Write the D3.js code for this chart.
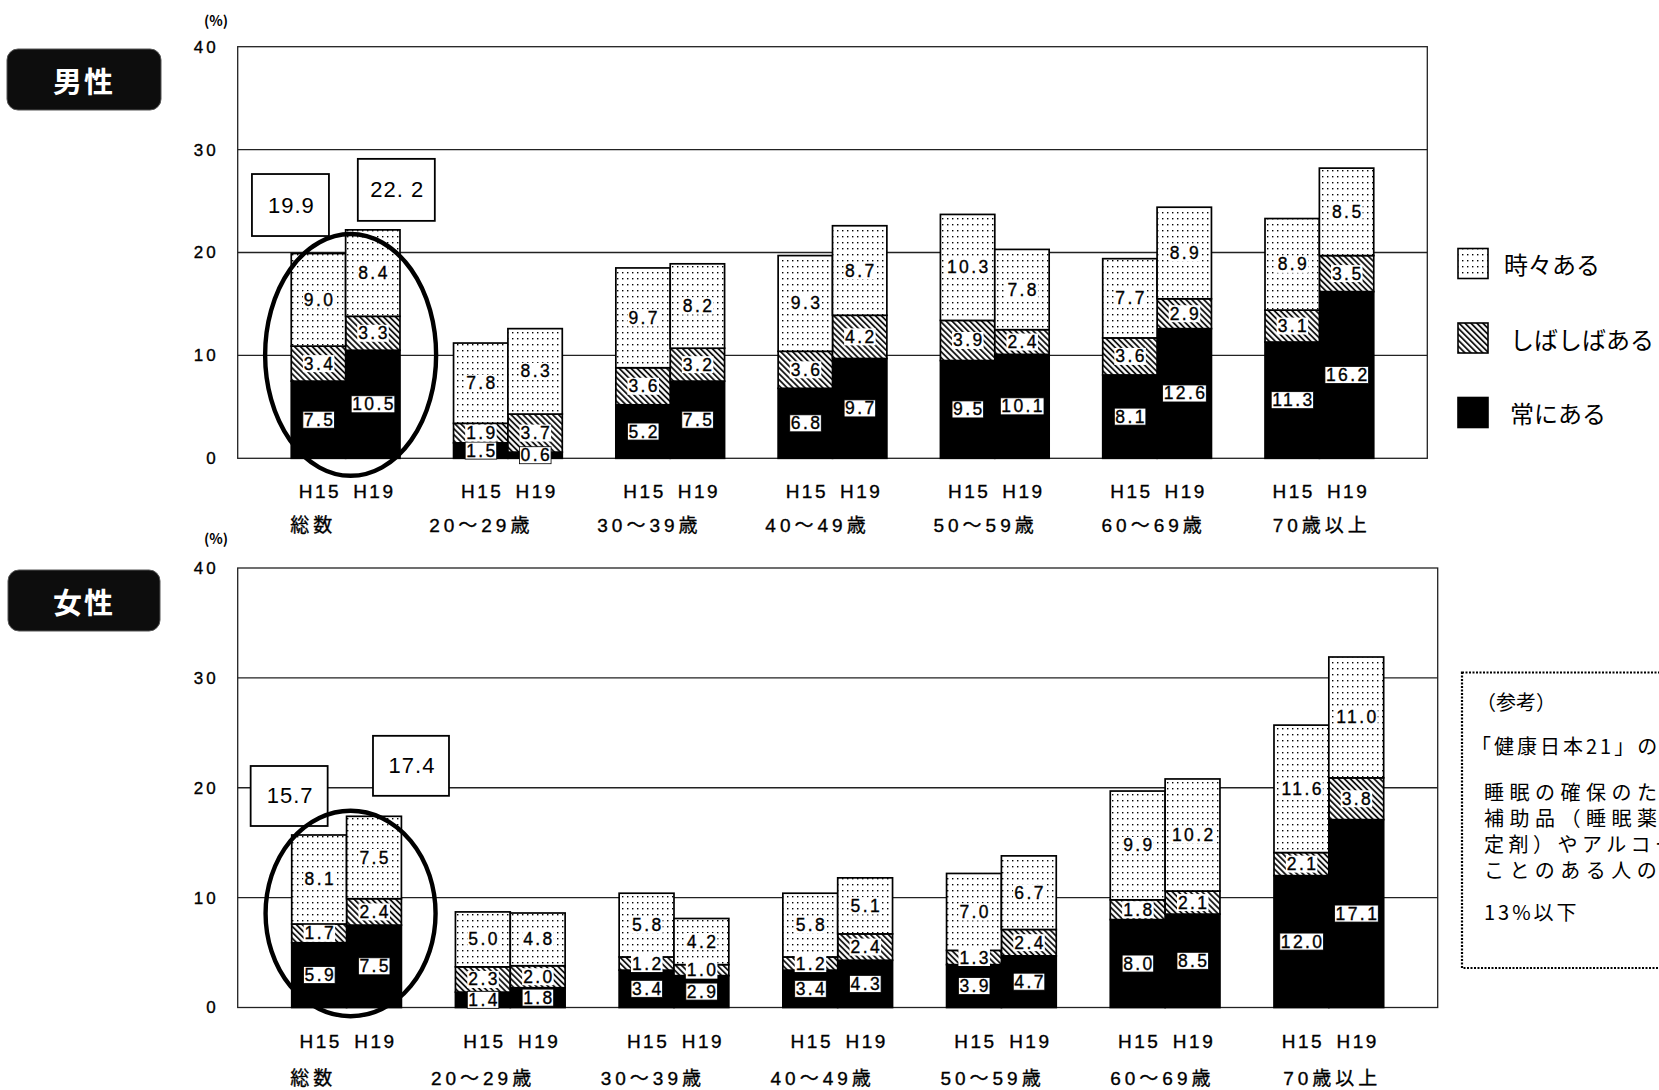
<!DOCTYPE html>
<html>
<head>
<meta charset="utf-8">
<script src="https://cdn.jsdelivr.net/npm/d3@7"></script>
<style>
  html, body { margin: 0; padding: 0; background: #fff; overflow: hidden; }
  text { font-family: "Liberation Sans", "Noto Sans CJK JP", sans-serif; }
  .ink { stroke: #000; stroke-width: 0.35px; }
</style>
</head>
<body>
<svg id="chart" width="1659" height="1090"></svg>
<script>
// ---- data -------------------------------------------------------------
const categories = ["総数", "20～29歳", "30～39歳", "40～49歳", "50～59歳", "60～69歳", "70歳以上"];
const years = ["H15", "H19"];
const levels = ["常にある", "しばしばある", "時々ある"];        // stacking order, bottom to top
const legendOrder = ["時々ある", "しばしばある", "常にある"];
const yTicks = [0, 10, 20, 30, 40];

const maleH15Always    = [7.5, 1.5, 5.2, 6.8, 9.5, 8.1, 11.3];
const maleH15Often     = [3.4, 1.9, 3.6, 3.6, 3.9, 3.6, 3.1];
const maleH15Sometimes = [9.0, 7.8, 9.7, 9.3, 10.3, 7.7, 8.9];
const maleH19Always    = [10.5, 0.6, 7.5, 9.7, 10.1, 12.6, 16.2];
const maleH19Often     = [3.3, 3.7, 3.2, 4.2, 2.4, 2.9, 3.5];
const maleH19Sometimes = [8.4, 8.3, 8.2, 8.7, 7.8, 8.9, 8.5];

const femaleH15Always    = [5.9, 1.4, 3.4, 3.4, 3.9, 8.0, 12.0];
const femaleH15Often     = [1.7, 2.3, 1.2, 1.2, 1.3, 1.8, 2.1];
const femaleH15Sometimes = [8.1, 5.0, 5.8, 5.8, 7.0, 9.9, 11.6];
const femaleH19Always    = [7.5, 1.8, 2.9, 4.3, 4.7, 8.5, 17.1];
const femaleH19Often     = [2.4, 2.0, 1.0, 2.4, 2.4, 2.1, 3.8];
const femaleH19Sometimes = [7.5, 4.8, 4.2, 5.1, 6.7, 10.2, 11.0];

// overall totals (総数) shown in the framed boxes
const maleTotals = [19.9, 22.2];
const maleTotalLabels = ["19.9", "22. 2"];
const femaleTotals = [15.7, 17.4];
const femaleTotalLabels = ["15.7", "17.4"];

const noteLines = [
  "（参考）",
  "「健康日本21」の目標値",
  "睡眠の確保のために睡眠",
  "補助品（睡眠薬・精神安",
  "定剤）やアルコールを使う",
  "ことのある人の割合の減少",
  "13%以下"
];

// ---- helpers ----------------------------------------------------------
function buildRows(h15, h19) {
  const rows = [];
  categories.forEach((c, i) => {
    [[years[0], h15], [years[1], h19]].forEach(([yr, s]) => {
      rows.push({ category: c, year: yr, "常にある": s[0][i], "しばしばある": s[1][i], "時々ある": s[2][i] });
    });
  });
  return rows;
}

const svg = d3.select("#chart");
const defs = svg.append("defs");

// dotted fill (時々ある)
const dots = defs.append("pattern").attr("id", "pat-dots")
  .attr("patternUnits", "userSpaceOnUse").attr("width", 5).attr("height", 6);
dots.append("rect").attr("width", 5).attr("height", 6).attr("fill", "#fff");
dots.append("rect").attr("x", 2).attr("y", 2).attr("width", 1.4).attr("height", 1.4).attr("fill", "#000");

// diagonal hatch (しばしばある)
const hatch = defs.append("pattern").attr("id", "pat-hatch")
  .attr("patternUnits", "userSpaceOnUse").attr("width", 4.2).attr("height", 4.2)
  .attr("patternTransform", "rotate(-45)");
hatch.append("rect").attr("width", 4.2).attr("height", 4.2).attr("fill", "#fff");
hatch.append("line").attr("x1", 1).attr("y1", 0).attr("x2", 1).attr("y2", 4.2)
  .attr("stroke", "#000").attr("stroke-width", 1.7);

const fillFor = {
  "常にある": "#000",
  "しばしばある": "url(#pat-hatch)",
  "時々ある": "url(#pat-dots)"
};

const panels = [
  {
    title: "男性",
    rows: buildRows([maleH15Always, maleH15Often, maleH15Sometimes], [maleH19Always, maleH19Often, maleH19Sometimes]),
    totals: maleTotals, totalLabels: maleTotalLabels,
    left: 237.7, right: 1427.3, top: 46.7, bottom: 458.3,
    badge: { x: 7, y: 49, w: 154, h: 61 },
    pctY: 20,
    boxes: [{ dx: -28, gap: 17.5, w: 77, h: 62 }, { dx: 23.5, gap: 9, w: 77, h: 62 }],
    ring: { dx: 5, cv: 10.05, rv: 11.75, rx: 85.5 },
    tickY: 33.5, catY: 67
  },
  {
    title: "女性",
    rows: buildRows([femaleH15Always, femaleH15Often, femaleH15Sometimes], [femaleH19Always, femaleH19Often, femaleH19Sometimes]),
    totals: femaleTotals, totalLabels: femaleTotalLabels,
    left: 237.7, right: 1437.7, top: 568, bottom: 1007.5,
    badge: { x: 8, y: 570, w: 152, h: 61 },
    pctY: 538,
    boxes: [{ dx: -30, gap: 9, w: 77, h: 60 }, { dx: 37, gap: 20.5, w: 76, h: 60 }],
    ring: { dx: 4, cv: 8.56, rv: 9.35, rx: 85 },
    tickY: 34, catY: 71
  }
];

const fmt = d3.format(".1f");
const stack = d3.stack().keys(levels);

panels.forEach(p => {
  const g = svg.append("g");

  const x0 = d3.scaleBand().domain(categories).range([p.left, p.right])
    .paddingInner(0.33).paddingOuter(0.33);
  const x1 = d3.scaleBand().domain(years).range([0, x0.bandwidth()]).padding(0);
  const y = d3.scaleLinear().domain([0, 40]).range([p.bottom, p.top]);
  // category captions sit on their own, slightly wider spacing
  const xc = d3.scalePoint().domain(categories).range([p.left + 73.5, p.right - 107.5]);

  // badge
  g.append("rect").attr("x", p.badge.x).attr("y", p.badge.y)
    .attr("width", p.badge.w).attr("height", p.badge.h).attr("rx", 11)
    .attr("fill", "#0d0d0d").attr("stroke", "#555").attr("stroke-width", 1);
  g.append("text").attr("x", p.badge.x + p.badge.w / 2).attr("y", p.badge.y + p.badge.h / 2)
    .attr("text-anchor", "middle").attr("dominant-baseline", "central")
    .style("font-family", "'Noto Sans CJK JP'").style("font-weight", "700")
    .style("font-size", "29px").style("letter-spacing", "2px").attr("fill", "#fff")
    .text(p.title);

  // unit
  g.append("text").attr("x", 216).attr("y", p.pctY).attr("text-anchor", "middle")
    .attr("dominant-baseline", "central").style("font-size", "14px").style("font-weight", "700")
    .style("font-family", "'Noto Sans CJK JP'")
    .text("(%)");

  // gridlines
  g.append("g").selectAll("line").data(yTicks.filter(t => t > 0 && t < 40)).join("line")
    .attr("x1", p.left).attr("x2", p.right)
    .attr("y1", d => y(d)).attr("y2", d => y(d))
    .attr("stroke", "#222").attr("stroke-width", 1.3);

  // frame
  g.append("rect").attr("x", p.left).attr("y", y(40))
    .attr("width", p.right - p.left).attr("height", y(0) - y(40))
    .attr("fill", "none").attr("stroke", "#222").attr("stroke-width", 1.3);

  // y axis labels
  const yAxis = d3.axisLeft(y).tickValues(yTicks).tickSize(0).tickPadding(0);
  const ya = g.append("g").attr("transform", `translate(${p.left - 22},0)`).call(yAxis);
  ya.select(".domain").remove();
  ya.selectAll("text").attr("class", "ink").style("font-size", "17px").style("letter-spacing", "3px")
    .attr("dx", "3px").attr("fill", "#000")
    .style("font-family", "'Liberation Sans', sans-serif");

  // bars
  const series = stack(p.rows);
  const segs = [];
  series.forEach(s => s.forEach(d => segs.push({ key: s.key, y0: d[0], y1: d[1], row: d.data })));

  const bars = g.append("g");
  bars.selectAll("rect").data(segs).join("rect")
    .attr("x", d => x0(d.row.category) + x1(d.row.year))
    .attr("width", x1.bandwidth())
    .attr("y", d => y(d.y1))
    .attr("height", d => y(d.y0) - y(d.y1))
    .attr("fill", d => fillFor[d.key])
    .attr("stroke", "#000").attr("stroke-width", 1.7);

  // value labels with white backing
  const labels = g.append("g");
  segs.forEach(d => {
    const cx = x0(d.row.category) + x1(d.row.year) + x1.bandwidth() / 2;
    const cy = y((d.y0 + d.y1) / 2);
    const lg = labels.append("g");
    const t = lg.append("text").attr("class", "ink").attr("x", cx + 1.2).attr("y", cy)
      .attr("text-anchor", "middle").attr("dominant-baseline", "central")
      .style("font-size", "17.5px").style("letter-spacing", "2.4px")
      .text(fmt(d.y1 - d.y0));
    const bb = t.node().getBBox();
    lg.insert("rect", "text").attr("x", bb.x - 1).attr("y", bb.y + 1.5)
      .attr("width", bb.width).attr("height", bb.height - 3)
      .attr("fill", "#fff")
      .attr("stroke", d.key === "常にある" ? "#000" : "none").attr("stroke-width", 0.8);
  });

  // x labels: year under each bar, category under each group
  const xl = g.append("g");
  categories.forEach(c => {
    years.forEach(yr => {
      xl.append("text").attr("class", "ink").attr("x", x0(c) + x1(yr) + x1.bandwidth() / 2 + 1.5)
        .attr("y", p.bottom + p.tickY).attr("text-anchor", "middle")
        .attr("dominant-baseline", "central")
        .style("font-size", "19px").style("letter-spacing", "2.5px")
        .text(yr);
    });
    xl.append("text").attr("class", "ink").attr("x", xc(c) + 2)
      .attr("y", p.bottom + p.catY).attr("text-anchor", "middle")
      .attr("dominant-baseline", "central")
      .style("font-size", "19px").style("letter-spacing", "4px")
      .text(c);
  });

  // overall totals in framed boxes
  years.forEach((yr, i) => {
    const b = p.boxes[i];
    const cx = x0(categories[0]) + x1(yr) + x1.bandwidth() / 2 + b.dx;
    const bottomY = y(p.totals[i]) - b.gap;
    g.append("rect").attr("x", cx - b.w / 2).attr("y", bottomY - b.h)
      .attr("width", b.w).attr("height", b.h)
      .attr("fill", "#fff").attr("stroke", "#000").attr("stroke-width", 1.8);
    g.append("text").attr("x", cx + 1).attr("y", bottomY - b.h / 2)
      .attr("text-anchor", "middle").attr("dominant-baseline", "central")
      .style("font-size", "22px").style("letter-spacing", "1px")
      .text(p.totalLabels[i]);
  });

  // ring around the overall group
  const ringCx = x0(categories[0]) + x0.bandwidth() / 2 + p.ring.dx;
  g.append("ellipse").attr("cx", ringCx).attr("cy", y(p.ring.cv))
    .attr("rx", p.ring.rx).attr("ry", y(0) - y(p.ring.rv))
    .attr("fill", "none").attr("stroke", "#000").attr("stroke-width", 4.4);
});

// legend
const legend = svg.append("g");
legendOrder.forEach((k, i) => {
  const yy = 248.5 + i * 74.5;
  legend.append("rect").attr("x", 1458).attr("y", yy).attr("width", 30).attr("height", 30)
    .attr("fill", fillFor[k]).attr("stroke", "#000").attr("stroke-width", 1.6);
  legend.append("text").attr("x", i === 0 ? 1504 : 1510).attr("y", yy + 15)
    .attr("dominant-baseline", "central")
    .style("font-family", "'Noto Sans CJK JP'").style("font-size", "24px")
    .text(k);
});

// reference note, one text block
const note = svg.append("g");
note.append("rect").attr("x", 1462).attr("y", 672.5).attr("width", 260).attr("height", 295.5)
  .attr("fill", "#fff").attr("stroke", "#000").attr("stroke-width", 2.2)
  .attr("stroke-dasharray", "2,1.5");
const noteY = [703, 746.5, 793, 819, 845, 870.5, 913];
const noteX = [1476, 1471, 1484, 1484, 1484, 1484, 1484];
const noteSpacing = ["0px", "3px", "5.5px", "5.5px", "4.5px", "5.5px", "3px"];
const noteText = note.append("text")
  .style("font-family", "'Noto Sans CJK JP'").style("font-size", "20px");
noteLines.forEach((t, i) => {
  noteText.append("tspan").attr("x", noteX[i]).attr("y", noteY[i] + 7)
    .style("letter-spacing", noteSpacing[i])
    .text(t);
});
</script>
</body>
</html>
